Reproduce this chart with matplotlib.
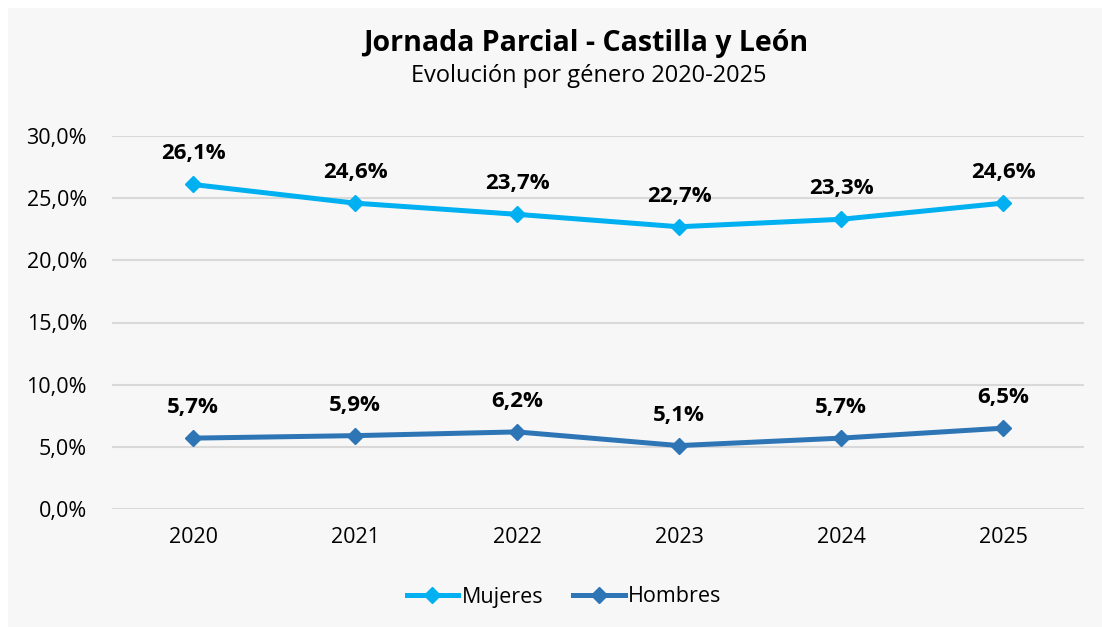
import matplotlib.pyplot as plt
from matplotlib.patches import Rectangle
from matplotlib.lines import Line2D

plt.rcParams['font.family'] = ['Open Sans', 'DejaVu Sans']

years = ['2020', '2021', '2022', '2023', '2024', '2025']
mujeres = [26.1, 24.6, 23.7, 22.7, 23.3, 24.6]
hombres = [5.7, 5.9, 6.2, 5.1, 5.7, 6.5]
yticks = [0, 5, 10, 15, 20, 25, 30]

col_muj = '#00b0f0'
col_hom = '#2e75b6'
bg = '#f7f7f7'

W, H = 1102, 627
fig = plt.figure(figsize=(W / 100, H / 100), dpi=100, facecolor='white')
fig.patches.append(Rectangle((8 / W, -0.01), 1, 1.01 - 8 / H, transform=fig.transFigure,
                             facecolor=bg, edgecolor='none', zorder=-10))

ax = fig.add_axes([112 / W, 1 - 509 / H, (1084 - 112) / W, (509 - 136) / H])
ax.patch.set_alpha(0)

x = list(range(len(years)))
ax.plot(x, mujeres, color=col_muj, lw=3.6, marker='D', ms=8, solid_capstyle='round', zorder=3)
ax.plot(x, hombres, color=col_hom, lw=3.6, marker='D', ms=8, solid_capstyle='round', zorder=3)

# etiquetas de datos
for serie in (mujeres, hombres):
    for xi, v in zip(x, serie):
        ax.annotate(f'{v:.1f}%'.replace('.', ','), (xi, v), xytext=(0, 22),
                    textcoords='offset points', ha='center', va='center',
                    fontsize=16, fontweight='bold', color='black')

ax.set_xlim(-0.5, len(years) - 0.5)
ax.set_ylim(0, 30)
ax.set_yticks(yticks)
ax.set_yticklabels([f'{t:.1f}%'.replace('.', ',') for t in yticks])
ax.set_xticks(x)
ax.set_xticklabels(years)
ax.tick_params(axis='both', length=0, labelsize=15.5, colors='black')
ax.tick_params(axis='y', pad=18)
ax.tick_params(axis='x', pad=13)
ax.grid(axis='y', color='#d9d9d9', lw=1.5)
ax.set_axisbelow(True)
for s in ax.spines.values():
    s.set_visible(False)

fig.text(586 / W, 1 - 43 / H, 'Jornada Parcial - Castilla y León', ha='center', va='center',
         fontsize=20.5, fontweight='bold')
fig.text(589 / W, 1 - 76 / H, 'Evolución por género 2020-2025', ha='center', va='center',
         fontsize=17)

handles = [Line2D([], [], color=col_muj, lw=3.6, marker='D', ms=8),
           Line2D([], [], color=col_hom, lw=3.6, marker='D', ms=8)]
fig.legend(handles, ['Mujeres', 'Hombres'], loc='center', bbox_to_anchor=(564 / W, 1 - 597 / H),
           ncol=2, frameon=False, fontsize=15.5, handlelength=2.4, handletextpad=0.15,
           columnspacing=1.4)

fig.savefig('out.png', dpi=100, facecolor='white')
